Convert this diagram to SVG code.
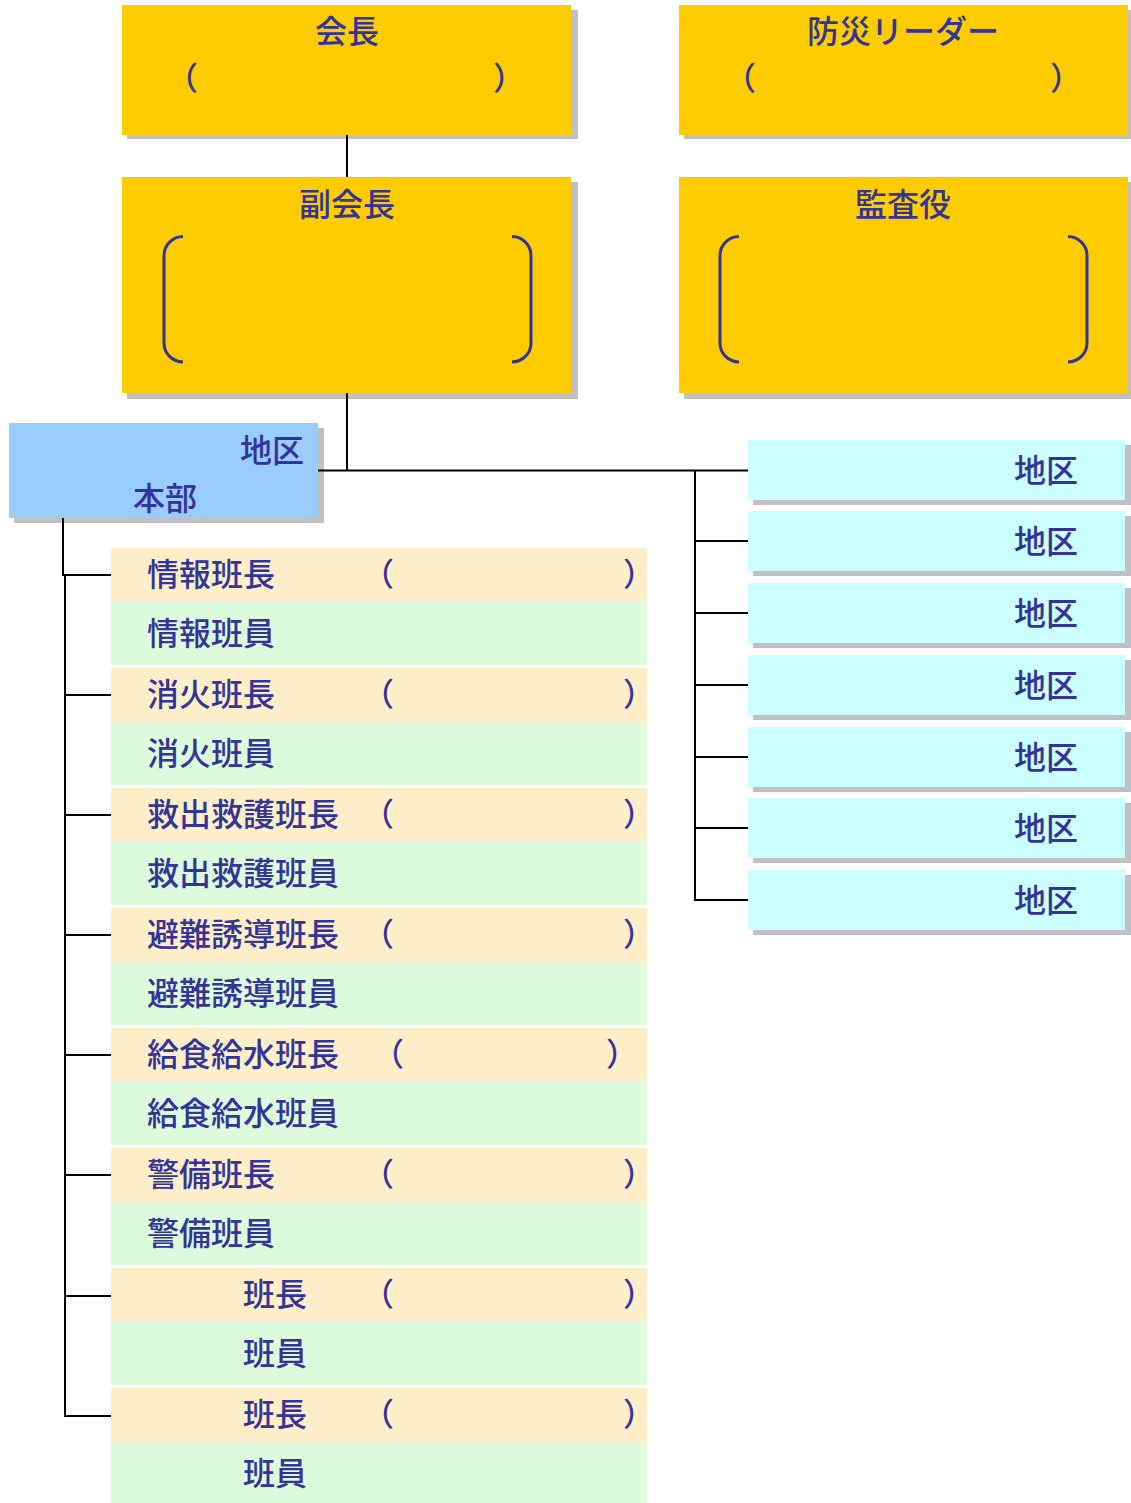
<svg xmlns="http://www.w3.org/2000/svg" width="1131" height="1503" viewBox="0 0 1131 1503">
<style>
.t{font-family:"Noto Sans CJK JP","Noto Sans CJK SC",sans-serif;font-size:32px;font-weight:500;fill:#333399}
.m{text-anchor:middle}
.e{text-anchor:end}
.y{fill:#FFCC00}
.sh{fill:#C0C0C0}
.hq{fill:#99CCFF}
.dist{fill:#CCFFFF}
.lead{fill:#FFEFC9}
.mem{fill:#DDFCDB}
.c{stroke:#000;stroke-width:2;fill:none}
.br{stroke:#333399;stroke-width:3;fill:none}
</style>
<rect width="1131" height="1503" fill="#FFFFFF"/>

<g id="kaicho">
<rect class="sh" x="127" y="10" width="451" height="129"/>
<rect class="y" x="122" y="5" width="449" height="130"/>
<text class="t m" x="347" y="43">会長</text>
<text class="t" x="166" y="90">（</text>
<text class="t" x="493" y="90">）</text>
</g>

<g id="bosai-leader">
<rect class="sh" x="684" y="10" width="447" height="129"/>
<rect class="y" x="679" y="5" width="449" height="130"/>
<text class="t m" x="903" y="43">防災リーダー</text>
<text class="t" x="724" y="90">（</text>
<text class="t" x="1050" y="90">）</text>
</g>

<g id="fukukaicho">
<rect class="sh" x="127" y="182" width="451" height="217"/>
<rect class="y" x="122" y="177" width="449" height="216"/>
<text class="t m" x="347" y="216">副会長</text>
<path class="br" d="M183,236.5 A19,19 0 0 0 164,255.5 V343 A19,19 0 0 0 183,362"/>
<path class="br" d="M512,236.5 A19,19 0 0 1 531,255.5 V343 A19,19 0 0 1 512,362"/>
</g>

<g id="kansayaku">
<rect class="sh" x="684" y="182" width="447" height="217"/>
<rect class="y" x="679" y="177" width="449" height="216"/>
<text class="t m" x="903" y="216">監査役</text>
<path class="br" d="M739,236.5 A19,19 0 0 0 720,255.5 V343 A19,19 0 0 0 739,362"/>
<path class="br" d="M1068,236.5 A19,19 0 0 1 1087,255.5 V343 A19,19 0 0 1 1068,362"/>
</g>

<g id="chiku-honbu">
<rect class="sh" x="14" y="428" width="310" height="95"/>
<rect class="hq" x="9" y="423" width="309" height="95"/>
<text class="t e" x="304" y="462">地区</text>
<text class="t e" x="197" y="510">本部</text>
</g>

<g id="chiku-1"><rect class="sh" x="753" y="445" width="378" height="60"/><rect class="dist" x="748" y="440" width="377" height="60"/><text class="t e" x="1078" y="482">地区</text></g>
<g id="chiku-2"><rect class="sh" x="753" y="516" width="378" height="60"/><rect class="dist" x="748" y="511" width="377" height="60"/><text class="t e" x="1078" y="553">地区</text></g>
<g id="chiku-3"><rect class="sh" x="753" y="588" width="378" height="60"/><rect class="dist" x="748" y="583" width="377" height="60"/><text class="t e" x="1078" y="625">地区</text></g>
<g id="chiku-4"><rect class="sh" x="753" y="660" width="378" height="60"/><rect class="dist" x="748" y="655" width="377" height="60"/><text class="t e" x="1078" y="697">地区</text></g>
<g id="chiku-5"><rect class="sh" x="753" y="732" width="378" height="60"/><rect class="dist" x="748" y="727" width="377" height="60"/><text class="t e" x="1078" y="769">地区</text></g>
<g id="chiku-6"><rect class="sh" x="753" y="803" width="378" height="60"/><rect class="dist" x="748" y="798" width="377" height="60"/><text class="t e" x="1078" y="840">地区</text></g>
<g id="chiku-7"><rect class="sh" x="753" y="875" width="378" height="60"/><rect class="dist" x="748" y="870" width="377" height="60"/><text class="t e" x="1078" y="912">地区</text></g>

<g id="joho-cho"><rect class="lead" x="111" y="548" width="536" height="53"/><text class="t" x="147" y="586">情報班長</text><text class="t" x="362" y="586">（</text><text class="t" x="623" y="586">）</text></g>
<g id="joho-in"><rect class="mem" x="111" y="601" width="536" height="64"/><text class="t" x="147" y="645">情報班員</text></g>

<g id="shoka-cho"><rect class="lead" x="111" y="668" width="536" height="53"/><text class="t" x="147" y="706">消火班長</text><text class="t" x="362" y="706">（</text><text class="t" x="623" y="706">）</text></g>
<g id="shoka-in"><rect class="mem" x="111" y="721" width="536" height="64"/><text class="t" x="147" y="765">消火班員</text></g>

<g id="kyushutsu-cho"><rect class="lead" x="111" y="788" width="536" height="53"/><text class="t" x="147" y="826">救出救護班長</text><text class="t" x="362" y="826">（</text><text class="t" x="623" y="826">）</text></g>
<g id="kyushutsu-in"><rect class="mem" x="111" y="841" width="536" height="64"/><text class="t" x="147" y="885">救出救護班員</text></g>

<g id="hinan-cho"><rect class="lead" x="111" y="908" width="536" height="53"/><text class="t" x="147" y="946">避難誘導班長</text><text class="t" x="362" y="946">（</text><text class="t" x="623" y="946">）</text></g>
<g id="hinan-in"><rect class="mem" x="111" y="961" width="536" height="64"/><text class="t" x="147" y="1005">避難誘導班員</text></g>

<g id="kyushoku-cho"><rect class="lead" x="111" y="1028" width="536" height="53"/><text class="t" x="147" y="1066">給食給水班長</text><text class="t" x="372" y="1066">（</text><text class="t" x="606" y="1066">）</text></g>
<g id="kyushoku-in"><rect class="mem" x="111" y="1081" width="536" height="64"/><text class="t" x="147" y="1125">給食給水班員</text></g>

<g id="keibi-cho"><rect class="lead" x="111" y="1148" width="536" height="53"/><text class="t" x="147" y="1186">警備班長</text><text class="t" x="362" y="1186">（</text><text class="t" x="623" y="1186">）</text></g>
<g id="keibi-in"><rect class="mem" x="111" y="1201" width="536" height="64"/><text class="t" x="147" y="1245">警備班員</text></g>

<g id="han7-cho"><rect class="lead" x="111" y="1268" width="536" height="53"/><text class="t" x="243" y="1306">班長</text><text class="t" x="362" y="1306">（</text><text class="t" x="623" y="1306">）</text></g>
<g id="han7-in"><rect class="mem" x="111" y="1321" width="536" height="64"/><text class="t" x="243" y="1365">班員</text></g>

<g id="han8-cho"><rect class="lead" x="111" y="1388" width="536" height="53"/><text class="t" x="243" y="1426">班長</text><text class="t" x="362" y="1426">（</text><text class="t" x="623" y="1426">）</text></g>
<g id="han8-in"><rect class="mem" x="111" y="1441" width="536" height="64"/><text class="t" x="243" y="1485">班員</text></g>

<g id="connectors">
<path class="c" d="M347,135 V177"/>
<path class="c" d="M347,393 V470.5"/>
<path class="c" d="M318,470.5 H748"/>
<path class="c" d="M695,470.5 V900 H748"/>
<path class="c" d="M695,541 H748 M695,613 H748 M695,685 H748 M695,757 H748 M695,828 H748"/>
<path class="c" d="M63,518 V575 H111"/>
<path class="c" d="M65,575 V1416 H111"/>
<path class="c" d="M65,695 H111 M65,815 H111 M65,935 H111 M65,1055 H111 M65,1175 H111 M65,1296 H111"/>
</g>
</svg>
